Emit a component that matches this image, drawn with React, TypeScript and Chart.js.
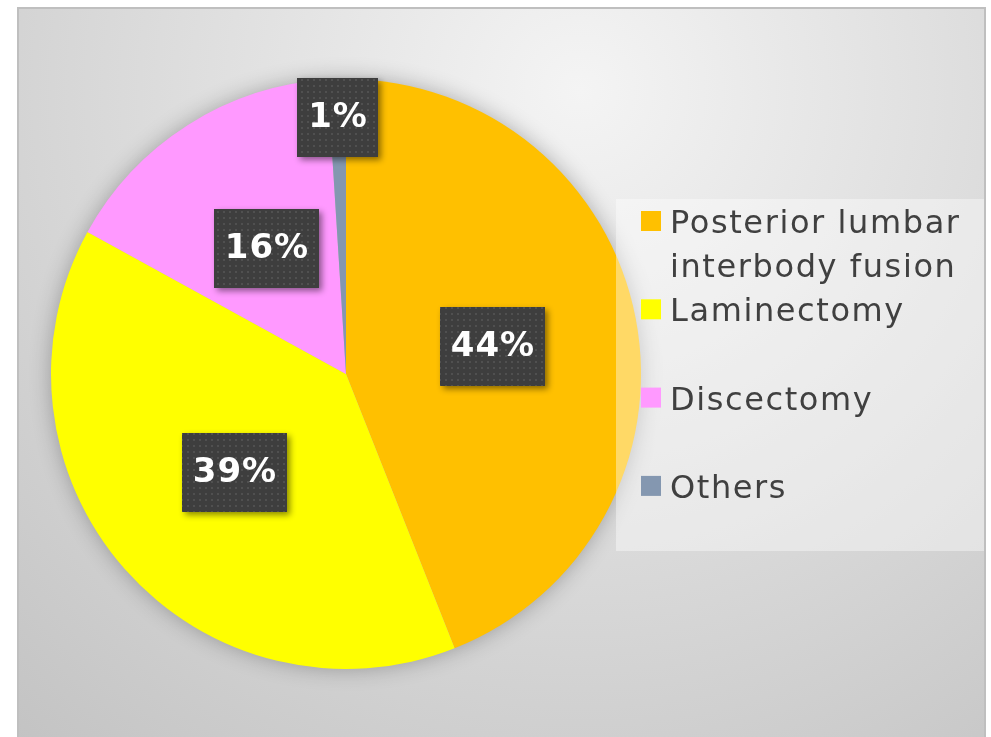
import { useEffect, useRef } from 'react';
import { Chart, registerables } from 'chart.js';

Chart.register(...registerables);

// ---- data ----
const categories = ['Posterior lumbar interbody fusion', 'Laminectomy', 'Discectomy', 'Others'];
const shares = [44, 39, 16, 1];
const sliceColors = ['#FFC000', '#FFFF00', '#FF99FF', '#8497B0'];

const W = 991;
const H = 737;

function makePattern(ctx: CanvasRenderingContext2D) {
  const c = document.createElement('canvas');
  c.width = 6;
  c.height = 6;
  const g = c.getContext('2d')!;
  g.fillStyle = '#3e3e3e';
  g.fillRect(0, 0, 6, 6);
  g.fillStyle = '#505050';
  g.fillRect(1, 1, 2, 2);
  return ctx.createPattern(c, 'repeat');
}

const backgroundPlugin = {
  id: 'bgPanel',
  beforeDraw(chart: any) {
    const ctx = chart.ctx as CanvasRenderingContext2D;
    ctx.save();
    ctx.fillStyle = '#ffffff';
    ctx.fillRect(0, 0, W, H);
    const grad = ctx.createRadialGradient(580, 90, 0, 580, 90, 880);
    grad.addColorStop(0, '#f4f4f4');
    grad.addColorStop(1, '#c2c2c2');
    ctx.fillStyle = grad;
    ctx.fillRect(18, 8, 967, 740);
    ctx.strokeStyle = '#bfbfbf';
    ctx.lineWidth = 2;
    ctx.strokeRect(18, 8, 967, 740);
    ctx.restore();
  },
  beforeDatasetsDraw(chart: any) {
    const arc = chart.getDatasetMeta(0).data[0];
    if (!arc) return;
    const ctx = chart.ctx as CanvasRenderingContext2D;
    ctx.save();
    ctx.shadowColor = 'rgba(0,0,0,0.3)';
    ctx.shadowBlur = 22;
    ctx.fillStyle = '#bbbbbb';
    ctx.beginPath();
    ctx.arc(arc.x, arc.y, arc.outerRadius - 1, 0, Math.PI * 2);
    ctx.fill();
    ctx.restore();
  },
};

const overlayPlugin = {
  id: 'overlay',
  afterDatasetsDraw(chart: any) {
    const ctx = chart.ctx as CanvasRenderingContext2D;
    const meta = chart.getDatasetMeta(0);
    const ds = chart.data.datasets[0];
    const labels: string[] = chart.data.labels;

    // legend panel
    ctx.save();
    ctx.fillStyle = 'rgba(255,255,255,0.4)';
    ctx.fillRect(616, 199, 368, 352);
    ctx.font = '32px "DejaVu Sans"';
    (ctx as any).letterSpacing = '1.6px';
    ctx.textBaseline = 'alphabetic';
    ctx.textAlign = 'left';
    const maxW = 305;
    labels.forEach((lab, i) => {
      const top = 211 + i * 88.3;
      ctx.fillStyle = ds.backgroundColor[i];
      ctx.fillRect(641, top, 20, 20);
      const words = lab.split(' ');
      const lines: string[] = [];
      let cur = '';
      words.forEach((w) => {
        const t = cur ? cur + ' ' + w : w;
        if (ctx.measureText(t).width > maxW && cur) {
          lines.push(cur);
          cur = w;
        } else cur = t;
      });
      if (cur) lines.push(cur);
      ctx.fillStyle = '#404040';
      lines.forEach((ln, j) => ctx.fillText(ln, 670, top + 22 + j * 44));
    });
    ctx.restore();

    // data labels
    const factors = [0.505, 0.505, 0.505, 0.87];
    const pattern = makePattern(ctx);
    meta.data.forEach((arc: any, i: number) => {
      const mid = (arc.startAngle + arc.endAngle) / 2;
      const r = arc.outerRadius * factors[i];
      const cx = arc.x + Math.cos(mid) * r;
      const cy = arc.y + Math.sin(mid) * r;
      const txt = ds.data[i] + '%';
      ctx.save();
      ctx.font = 'bold 34px "DejaVu Sans"';
      (ctx as any).letterSpacing = '1px';
      const tw = ctx.measureText(txt).width;
      const bw = Math.round(tw + 21);
      const bh = 79;
      const bx = Math.round(cx - bw / 2);
      const by = Math.round(cy - bh / 2);
      ctx.shadowColor = 'rgba(0,0,0,0.45)';
      ctx.shadowBlur = 6;
      ctx.shadowOffsetX = 3;
      ctx.shadowOffsetY = 3;
      ctx.fillStyle = pattern || '#404040';
      ctx.fillRect(bx, by, bw, bh);
      ctx.shadowColor = 'transparent';
      ctx.fillStyle = '#ffffff';
      ctx.textAlign = 'center';
      ctx.textBaseline = 'middle';
      ctx.fillText(txt, bx + bw / 2 + 0.5, by + bh / 2 + 1);
      ctx.restore();
    });
  },
};

export default function App() {
  const ref = useRef<HTMLCanvasElement | null>(null);
  useEffect(() => {
    if (!ref.current) return;
    const chart = new Chart(ref.current, {
      type: 'pie',
      data: {
        labels: categories,
        datasets: [
          {
            data: shares,
            backgroundColor: sliceColors,
            borderWidth: 0,
          },
        ],
      },
      options: {
        animation: false,
        responsive: false,
        maintainAspectRatio: false,
        layout: { padding: { left: 51, right: 350, top: 79, bottom: 68 } },
        plugins: {
          legend: { display: false },
          tooltip: { enabled: false },
        },
      },
      plugins: [backgroundPlugin, overlayPlugin],
    });
    return () => chart.destroy();
  }, []);
  return (
    <div style={{ position: 'fixed', left: 0, top: 0, width: W, height: H, background: '#fff' }}>
      <canvas ref={ref} width={W} height={H} style={{ width: W, height: H, display: 'block' }} />
    </div>
  );
}
